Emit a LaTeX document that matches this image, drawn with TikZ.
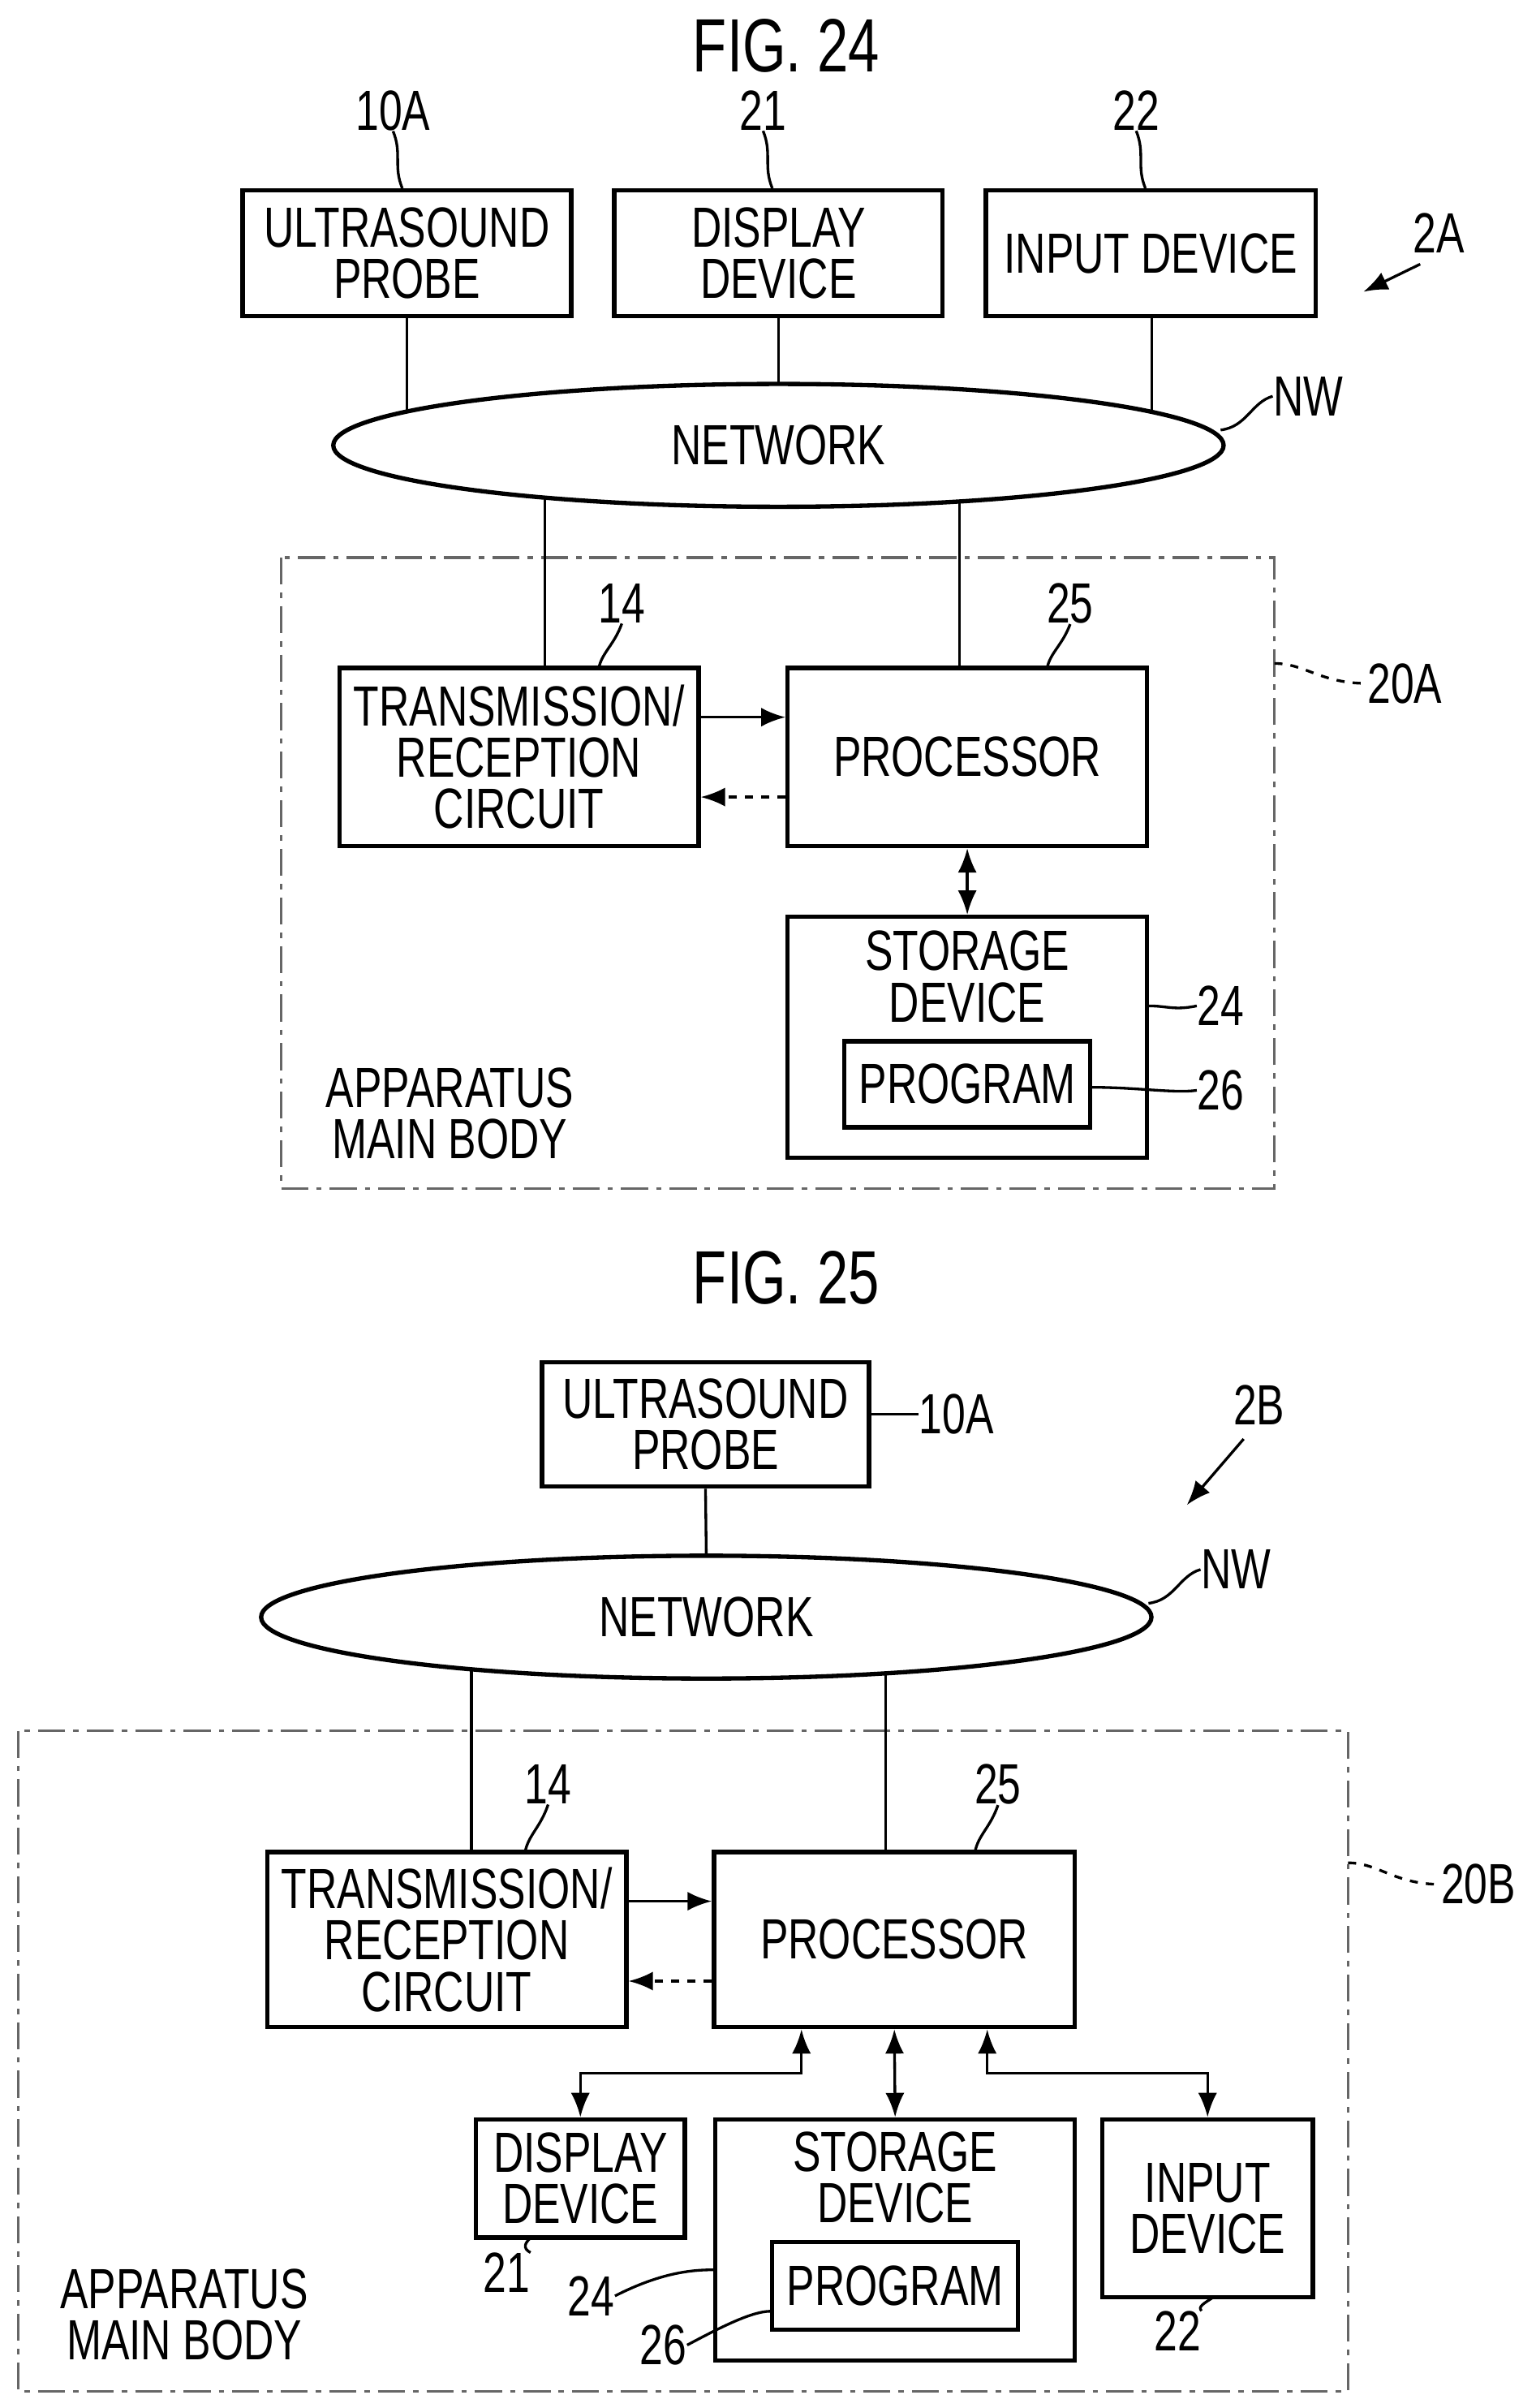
\documentclass[tikz,border=0pt]{standalone}
\usepackage{fontspec}
\setmainfont{Liberation Sans}[FakeStretch=0.74]
\usetikzlibrary{shapes.geometric,arrows.meta}
\tikzset{
  blk/.style={draw,line width=1.6pt,align=center,inner sep=0pt,font=\fontsize{21}{19}\selectfont},
  net/.style={draw,ellipse,line width=1.6pt,minimum width=11.6cm,minimum height=1.6cm,font=\fontsize{21}{19}\selectfont},
  txt/.style={align=center,inner sep=0pt,font=\fontsize{21}{19}\selectfont},
  ttl/.style={inner sep=0pt,font=\fontsize{28}{28}\selectfont},
  ln/.style={line width=1pt},
  ld/.style={line width=1pt},
  arr/.style={line width=1pt,-{Latex[length=9pt,width=7pt]}},
  darr/.style={line width=1pt,{Latex[length=9pt,width=7pt]}-{Latex[length=9pt,width=7pt]}},
  frame/.style={line width=1pt,dash pattern=on 10pt off 3pt on 2pt off 3pt,gray!80!black},
}
\begin{document}
\begin{tikzpicture}[x=0.02cm,y=-0.02cm]
  \useasboundingbox (0,0) rectangle (1000,1568);
  % FIG. 24
  \node[ttl] (t24) at (512,30) {FIG. 24};
  \node[blk,minimum width=4.28cm,minimum height=1.64cm] (probeA) at (265,165) {ULTRASOUND\\PROBE};
  \node[blk,minimum width=4.28cm,minimum height=1.64cm] (dispA) at (507,165) {DISPLAY\\DEVICE};
  \node[blk,minimum width=4.3cm,minimum height=1.64cm] (inA) at (749.5,165) {INPUT DEVICE};
  \node[txt] (l10A) at (256,72) {10A};
  \node[txt] (l21A) at (497,72) {21};
  \node[txt] (l22A) at (740,72) {22};
  \draw[ld] (l10A.south) .. controls (262,100) and (256,108) .. (probeA.north -| 262,0);
  \draw[ld] (l21A.south) .. controls (503,100) and (497,108) .. (dispA.north -| 503,0);
  \draw[ld] (l22A.south) .. controls (746,100) and (740,108) .. (inA.north -| 746,0);
  \node[txt] (l2A) at (937,152) {2A};
  \coordinate (a2A) at (888,190);
  \draw[arr] (925,172) -- (a2A);
  \node[net] (netA) at (507,290) {NETWORK};
  \node[txt] (lNWA) at (852,258) {NW};
  \draw[ld] (lNWA.west) .. controls (815,262) and (812,278) .. (795,280);
  \coordinate (nA1) at (265,268);
  \coordinate (nA2) at (507,250);
  \coordinate (nA3) at (750,268);
  \draw[ln] (probeA.south) -- (nA1);
  \draw[ln] (dispA.south) -- (nA2);
  \draw[ln] (inA.south -| 750,0) -- (nA3);
  \draw[frame] (183,363) rectangle (830,774);
  \node[txt] (l20A) at (915,445) {20A};
  \draw[ld,dashed] (830,432) .. controls (850,432) and (860,445) .. (l20A.west);
  \node[blk,minimum width=4.68cm,minimum height=2.32cm] (txA) at (338,493) {TRANSMISSION/\\RECEPTION\\CIRCUIT};
  \node[blk,minimum width=4.68cm,minimum height=2.32cm] (procA) at (630,493) {PROCESSOR};
  \node[txt] (l14A) at (405,393) {14};
  \node[txt] (l25A) at (697,393) {25};
  \draw[ld] (l14A.south) .. controls (400,420) and (392,425) .. (390,435);
  \draw[ld] (l25A.south) .. controls (692,420) and (684,425) .. (682,435);
  \coordinate (nA4) at (355,324);
  \coordinate (nA5) at (625,326);
  \draw[ln] (nA4) -- (txA.north -| nA4);
  \draw[ln] (nA5) -- (procA.north -| nA5);
  \draw[arr] (txA.east |- 0,467) -- (procA.west |- 0,467);
  \draw[arr,dashed] (procA.west |- 0,519) -- (txA.east |- 0,519);
  \node[blk,minimum width=4.68cm,minimum height=3.14cm] (storA) at (630,675.5) {};
  \node[txt] (storAt) at (630,636) {STORAGE\\DEVICE};
  \node[blk,minimum width=3.2cm,minimum height=1.12cm] (progA) at (630,706) {PROGRAM};
  \draw[darr] (procA.south) -- (storA.north);
  \node[txt] (l24A) at (795,655) {24};
  \node[txt] (l26A) at (795,710) {26};
  \draw[ld] (storA.east |- 0,655) .. controls (760,655) and (765,658) .. (l24A.west);
  \draw[ld] (progA.east |- 0,708) .. controls (740,708) and (765,712) .. (l26A.west);
  \node[txt] (bodyA) at (293,725) {APPARATUS\\MAIN BODY};
  % FIG. 25
  \node[ttl] (t25) at (512,832) {FIG. 25};
  \node[blk,minimum width=4.26cm,minimum height=1.62cm] (probeB) at (459.5,927.5) {ULTRASOUND\\PROBE};
  \node[txt] (l10B) at (623,921) {10A};
  \draw[ld] (probeB.east |- 0,921) .. controls (580,921) and (590,921) .. (l10B.west);
  \node[txt] (l2B) at (820,915) {2B};
  \coordinate (a2B) at (773,980);
  \draw[arr] (810,937) -- (a2B);
  \node[net] (netB) at (460,1053) {NETWORK};
  \node[txt] (lNWB) at (805,1022) {NW};
  \draw[ld] (lNWB.west) .. controls (768,1026) and (765,1042) .. (748,1044);
  \coordinate (nB1) at (460,1013);
  \draw[ln] (probeB.south) -- (nB1);
  \draw[frame] (12,1127) rectangle (878,1557);
  \node[txt] (l20B) at (963,1227) {20B};
  \draw[ld,dashed] (878,1213) .. controls (898,1213) and (908,1227) .. (l20B.west);
  \node[blk,minimum width=4.68cm,minimum height=2.28cm] (txB) at (291,1263) {TRANSMISSION/\\RECEPTION\\CIRCUIT};
  \node[blk,minimum width=4.7cm,minimum height=2.28cm] (procB) at (582.5,1263) {PROCESSOR};
  \node[txt] (l14B) at (357,1162) {14};
  \node[txt] (l25B) at (650,1162) {25};
  \draw[ld] (l14B.south) .. controls (352,1190) and (344,1195) .. (342,1206);
  \draw[ld] (l25B.south) .. controls (645,1190) and (637,1195) .. (635,1206);
  \coordinate (nB2) at (307,1087);
  \coordinate (nB3) at (577,1090);
  \draw[ln] (nB2) -- (txB.north -| nB2);
  \draw[ln] (nB3) -- (procB.north -| nB3);
  \draw[arr] (txB.east |- 0,1238) -- (procB.west |- 0,1238);
  \draw[arr,dashed] (procB.west |- 0,1290) -- (txB.east |- 0,1290);
  \node[blk,minimum width=2.72cm,minimum height=1.54cm] (dispB) at (378,1418.5) {DISPLAY\\DEVICE};
  \node[blk,minimum width=4.68cm,minimum height=3.14cm] (storB) at (583,1458.5) {};
  \node[txt] (storBt) at (583,1418) {STORAGE\\DEVICE};
  \node[blk,minimum width=3.2cm,minimum height=1.14cm] (progB) at (583,1488.5) {PROGRAM};
  \node[blk,minimum width=2.74cm,minimum height=2.32cm] (inB) at (786.5,1438) {INPUT\\DEVICE};
  \draw[darr] (procB.south -| 522,0) |- (378,1350) -- (dispB.north);
  \draw[darr] (procB.south) -- (storB.north);
  \draw[darr] (procB.south -| 643,0) |- (786.5,1350) -- (inB.north);
  \node[txt] (l21B) at (330,1480) {21};
  \node[txt] (l24B) at (385,1495) {24};
  \node[txt] (l26B) at (432,1527) {26};
  \node[txt] (l22B) at (767,1518) {22};
  \draw[ld] (l21B.north east) .. controls (340,1464) and (342,1460) .. (346,1457);
  \draw[ld] (l24B.east) .. controls (430,1480) and (450,1478) .. (storB.west |- 0,1478);
  \draw[ld] (l26B.east) .. controls (470,1515) and (490,1505) .. (progB.west |- 0,1505);
  \draw[ld] (l22B.north east) .. controls (780,1502) and (784,1500) .. (790,1496);
  \node[txt] (bodyB) at (120,1507) {APPARATUS\\MAIN BODY};
\end{tikzpicture}
\end{document}
